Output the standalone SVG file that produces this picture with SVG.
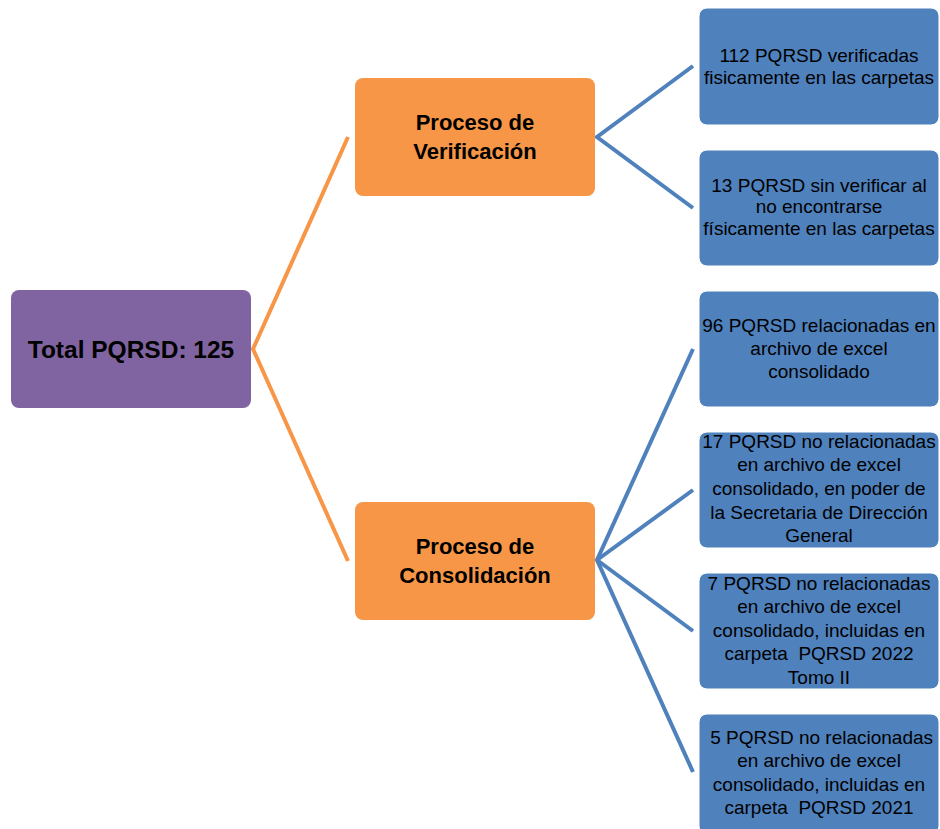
<svg xmlns="http://www.w3.org/2000/svg" width="940" height="829" viewBox="0 0 940 829">
<style>
.t{font-family:"Liberation Sans",Arial,sans-serif;fill:#000;text-anchor:middle}
.b{font-weight:bold}
.s{font-size:19px;white-space:pre}
.purple{fill:#8064A2}
.orange{fill:#F79646}
.blue{fill:#4F81BD;stroke:#fff;stroke-width:1}
.oc{fill:none;stroke:#F79646;stroke-width:4}
.bc{fill:none;stroke:#4F81BD;stroke-width:4}
</style>
<rect width="940" height="829" fill="#fff"/>
<g id="connectors">
<polyline class="oc" points="348,137 253,349 348,561"/>
<polyline class="bc" points="693,66 597,137 693,208"/>
<polyline class="bc" points="693,349 597,560 693,772"/>
<line class="bc" x1="597" y1="560" x2="693" y2="490"/>
<line class="bc" x1="597" y1="560" x2="693" y2="631"/>
</g>
<g id="total">
<rect class="purple" x="11" y="290" width="240" height="118" rx="8"/>
<text class="t b" x="131" y="358" font-size="24.5">Total PQRSD: 125</text>
</g>
<g id="verificacion">
<rect class="orange" x="355" y="78" width="240" height="118" rx="8"/>
<text class="t b" x="475" y="130" font-size="22">Proceso de</text>
<text class="t b" x="475" y="159" font-size="22">Verificación</text>
</g>
<g id="consolidacion">
<rect class="orange" x="355" y="502" width="240" height="118" rx="8"/>
<text class="t b" x="475" y="554" font-size="22">Proceso de</text>
<text class="t b" x="475" y="583" font-size="22">Consolidación</text>
</g>
<g id="b1">
<rect class="blue" x="699" y="8" width="240" height="117" rx="8"/>
<text class="t s" x="819" y="62">112 PQRSD verificadas</text>
<text class="t s" x="819" y="84">fisicamente en las carpetas</text>
</g>
<g id="b2">
<rect class="blue" x="699" y="150" width="240" height="116" rx="8"/>
<text class="t s" x="819" y="192">13 PQRSD sin verificar al</text>
<text class="t s" x="819" y="213">no encontrarse</text>
<text class="t s" x="819" y="235">físicamente en las carpetas</text>
</g>
<g id="b3">
<rect class="blue" x="699" y="291" width="240" height="116" rx="8"/>
<text class="t s" x="819" y="332">96 PQRSD relacionadas en</text>
<text class="t s" x="819" y="355">archivo de excel</text>
<text class="t s" x="819" y="378">consolidado</text>
</g>
<g id="b4">
<rect class="blue" x="699" y="432" width="240" height="116" rx="8"/>
<text class="t s" x="819" y="448">17 PQRSD no relacionadas</text>
<text class="t s" x="819" y="471">en archivo de excel</text>
<text class="t s" x="819" y="495">consolidado, en poder de</text>
<text class="t s" x="819" y="519">la Secretaria de Dirección</text>
<text class="t s" x="819" y="542">General</text>
</g>
<g id="b5">
<rect class="blue" x="699" y="573" width="240" height="116" rx="8"/>
<text class="t s" x="819" y="590">7 PQRSD no relacionadas</text>
<text class="t s" x="819" y="613">en archivo de excel</text>
<text class="t s" x="819" y="637">consolidado, incluidas en</text>
<text class="t s" x="819" y="660">carpeta  PQRSD 2022</text>
<text class="t s" x="819" y="684">Tomo II</text>
</g>
<g id="b6">
<rect class="blue" x="699" y="714" width="240" height="120" rx="8"/>
<text class="t s" x="819" y="744"> 5 PQRSD no relacionadas</text>
<text class="t s" x="819" y="767">en archivo de excel</text>
<text class="t s" x="819" y="791">consolidado, incluidas en</text>
<text class="t s" x="819" y="814">carpeta  PQRSD 2021</text>
</g>
</svg>
